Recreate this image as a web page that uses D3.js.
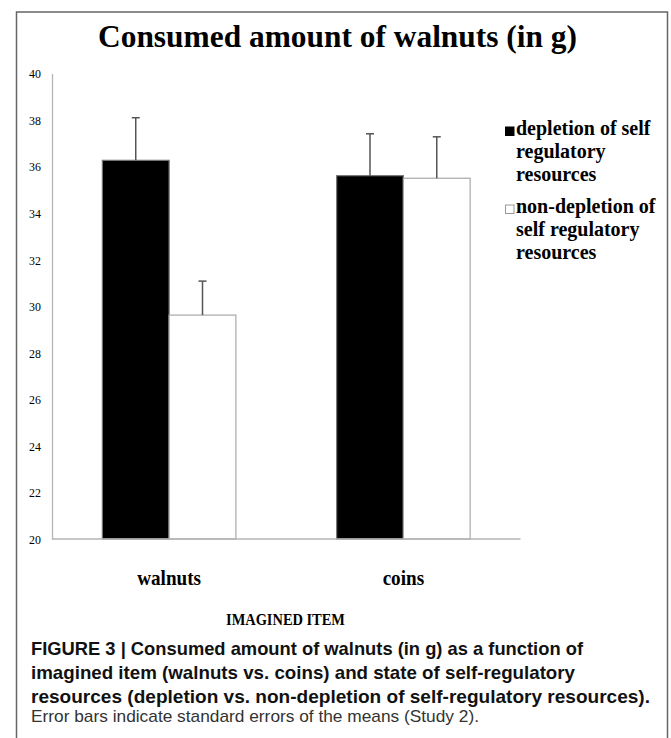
<!DOCTYPE html>
<html>
<head>
<meta charset="utf-8">
<script src="https://cdn.jsdelivr.net/npm/d3@7"></script>
<style>
  html, body { margin: 0; padding: 0; background: #fff; }
  svg { display: block; }
</style>
</head>
<body>
<svg id="chart" width="671" height="738"></svg>
<script>
// ---- data ----
const categories = ["walnuts", "coins"];
const seriesNames = ["depletion of self regulatory resources", "non-depletion of self regulatory resources"];
const depletion = [36.27, 35.61];
const nonDepletion = [29.62, 35.50];
const depletionSE = [1.83, 1.80];
const nonDepletionSE = [1.46, 1.78];
const yTicks = [20, 22, 24, 26, 28, 30, 32, 34, 36, 38, 40];

const svg = d3.select("#chart");
const serif = "'Liberation Serif', 'Times New Roman', serif";
const sans = "'Liberation Sans Narrow', 'Liberation Sans', Arial, sans-serif";

// condense text horizontally by factor k
function condense(sel, k) {
  sel.each(function() {
    const w = this.getComputedTextLength();
    d3.select(this).attr("textLength", w * k).attr("lengthAdjust", "spacingAndGlyphs");
  });
}

// frame
svg.append("rect")
  .attr("x", 16.5).attr("y", 12)
  .attr("width", 651).attr("height", 760)
  .attr("fill", "none").attr("stroke", "#666").attr("stroke-width", 1.5);

// title
svg.append("text")
  .attr("x", 98).attr("y", 47)
  .attr("font-family", serif).attr("font-weight", "bold").attr("font-size", 31)
  .attr("textLength", 479).attr("lengthAdjust", "spacingAndGlyphs")
  .attr("fill", "#000")
  .text("Consumed amount of walnuts (in g)");

// scales
const x0 = d3.scaleBand().domain(categories).range([52, 520.5])
  .paddingInner(0.43).paddingOuter(0.215);
const x1 = d3.scaleBand().domain([0, 1]).range([0, x0.bandwidth()]);
const y = d3.scaleLinear().domain([20, 40]).range([539, 73.5]);

// y axis
const yAxis = svg.append("g").attr("transform", "translate(52,0)")
  .call(d3.axisLeft(y).tickValues(yTicks).tickSize(0).tickPadding(11).tickFormat(d3.format("d")));
yAxis.select(".domain").attr("stroke", "#b5b5b5").attr("stroke-width", 1.3);
yAxis.selectAll("text")
  .attr("font-family", serif).attr("font-size", 13.5).attr("fill", "#000")
  .call(condense, 0.88);

// bars
const rows = categories.map((c, i) => ({
  cat: c,
  vals: [
    { s: 0, v: depletion[i], se: depletionSE[i] },
    { s: 1, v: nonDepletion[i], se: nonDepletionSE[i] }
  ]
}));

const groups = svg.append("g").selectAll("g").data(rows).join("g")
  .attr("transform", d => `translate(${x0(d.cat)},0)`);

groups.selectAll("rect").data(d => d.vals).join("rect")
  .attr("x", d => x1(d.s))
  .attr("y", d => y(d.v))
  .attr("width", x1.bandwidth())
  .attr("height", d => y(20) - y(d.v))
  .attr("fill", d => d.s === 0 ? "#000" : "#fff")
  .attr("stroke", d => d.s === 0 ? "#777" : "#a8a8a8")
  .attr("stroke-width", 1.2);

// error bars (upper)
groups.selectAll("line.err").data(d => d.vals).join("line")
  .attr("class", "err")
  .attr("x1", d => x1(d.s) + x1.bandwidth() / 2)
  .attr("x2", d => x1(d.s) + x1.bandwidth() / 2)
  .attr("y1", d => y(d.v))
  .attr("y2", d => y(d.v + d.se))
  .attr("stroke", "#555").attr("stroke-width", 1.5);
groups.selectAll("line.cap").data(d => d.vals).join("line")
  .attr("class", "cap")
  .attr("x1", d => x1(d.s) + x1.bandwidth() / 2 - 4)
  .attr("x2", d => x1(d.s) + x1.bandwidth() / 2 + 4)
  .attr("y1", d => y(d.v + d.se))
  .attr("y2", d => y(d.v + d.se))
  .attr("stroke", "#555").attr("stroke-width", 1.5);

// x axis line
svg.append("line")
  .attr("x1", 52).attr("x2", 520.5).attr("y1", 539).attr("y2", 539)
  .attr("stroke", "#b5b5b5").attr("stroke-width", 1.3);

// category labels
svg.append("g").selectAll("text").data(categories).join("text")
  .attr("x", d => x0(d) + x0.bandwidth() / 2)
  .attr("y", 585)
  .attr("text-anchor", "middle")
  .attr("font-family", serif).attr("font-weight", "bold").attr("font-size", 22)
  .attr("fill", "#000")
  .text(d => d)
  .call(condense, 0.87);

// axis title
svg.append("text")
  .attr("x", 285.5).attr("y", 625)
  .attr("text-anchor", "middle")
  .attr("font-family", serif).attr("font-weight", "bold").attr("font-size", 16)
  .attr("fill", "#000")
  .text("IMAGINED ITEM")
  .call(condense, 0.9);

// legend
const legendLines = [
  ["depletion of self", "regulatory", "resources"],
  ["non-depletion of", "self regulatory", "resources"]
];
const legendTop = [135, 213];
const lg = svg.append("g").selectAll("g").data(legendLines).join("g");
lg.append("rect")
  .attr("x", 505.5)
  .attr("y", (d, i) => legendTop[i] - 8)
  .attr("width", 8.5).attr("height", 8.5)
  .attr("fill", (d, i) => i === 0 ? "#000" : "#fff")
  .attr("stroke", (d, i) => i === 0 ? "#000" : "#999")
  .attr("stroke-width", 1);
lg.each(function(d, i) {
  d3.select(this).selectAll("text").data(d).join("text")
    .attr("x", 516)
    .attr("y", (t, j) => legendTop[i] + j * 23)
    .attr("font-family", serif).attr("font-weight", "bold").attr("font-size", 20)
    .attr("fill", "#000")
    .text(t => t);
});

// caption
const captionLines = [
  { t: "FIGURE 3 | Consumed amount of walnuts (in g) as a function of", w: 552, y: 655, bold: true },
  { t: "imagined item (walnuts vs. coins) and state of self-regulatory", w: 544, y: 679, bold: true },
  { t: "resources (depletion vs. non-depletion of self-regulatory resources).", w: 619, y: 702.5, bold: true },
  { t: "Error bars indicate standard errors of the means (Study 2).", w: 448, y: 722, bold: false }
];
svg.append("g").selectAll("text").data(captionLines).join("text")
  .attr("x", 31)
  .attr("y", d => d.y)
  .attr("font-family", sans)
  .attr("font-weight", d => d.bold ? "bold" : "normal")
  .attr("font-size", d => d.bold ? 19 : 17)
  .attr("fill", d => d.bold ? "#111" : "#333")
  .attr("textLength", d => d.w)
  .attr("lengthAdjust", "spacingAndGlyphs")
  .text(d => d.t);
</script>
</body>
</html>
